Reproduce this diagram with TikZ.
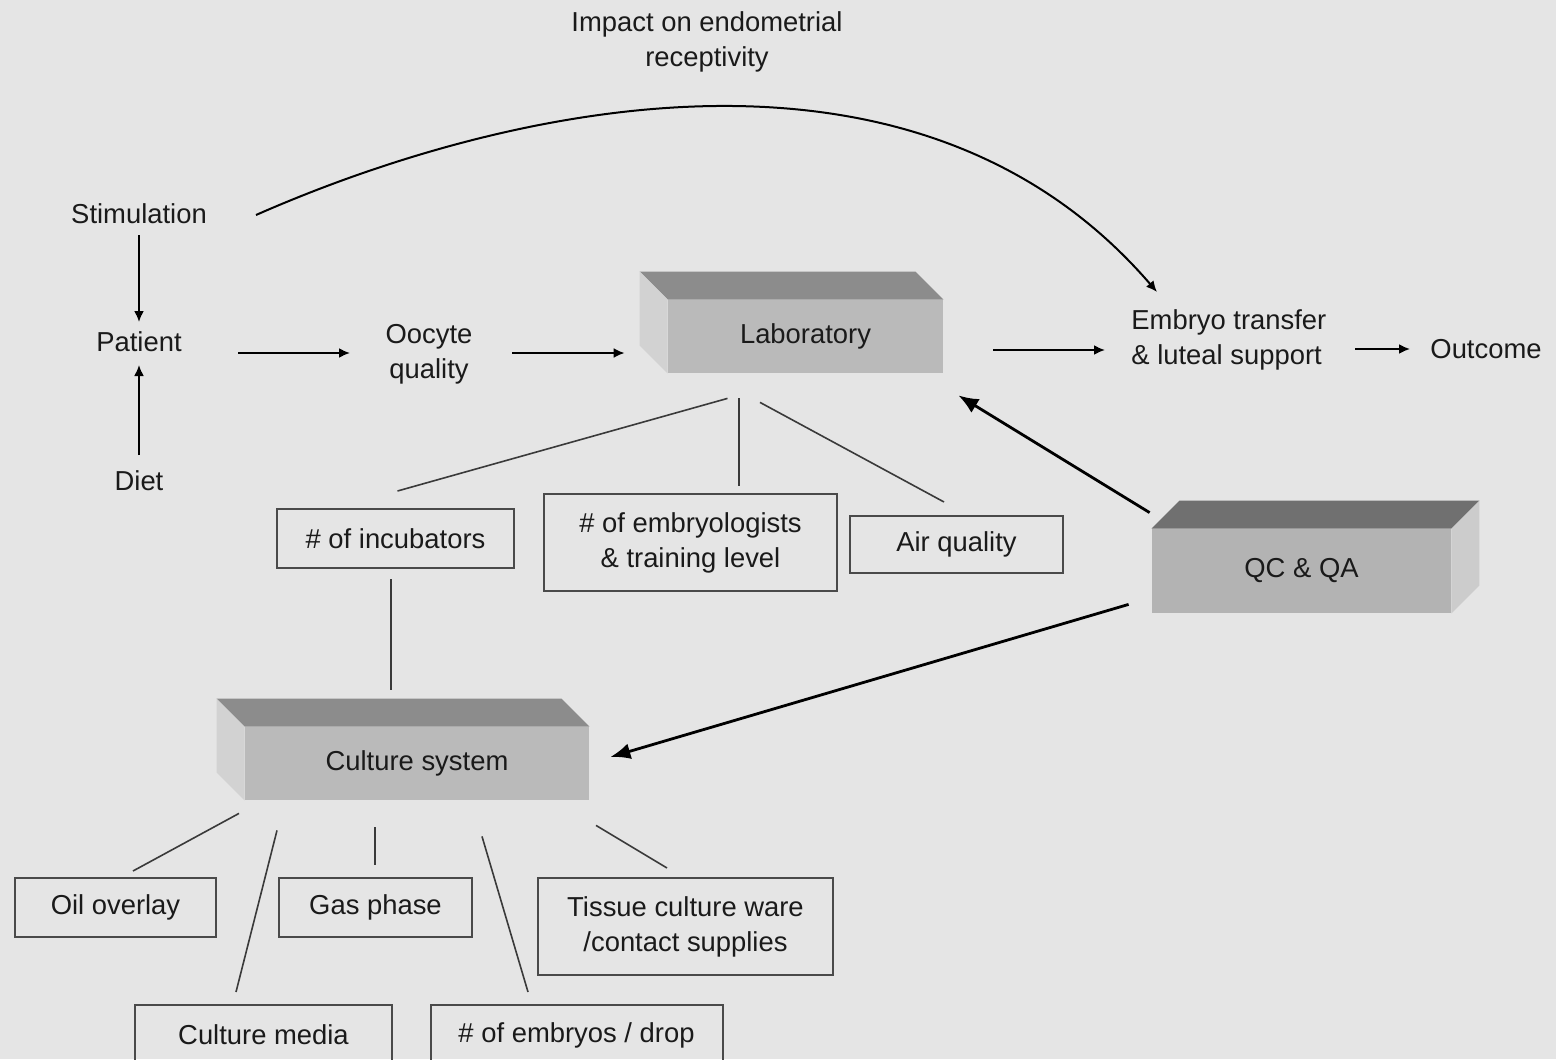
\documentclass[tikz,border=0pt]{standalone}
\usepackage{fontspec}
\setmainfont{Liberation Sans}
\usetikzlibrary{arrows.meta,calc}

\definecolor{bggray}{HTML}{E5E5E5}
\definecolor{txt}{HTML}{1A1A1A}
\definecolor{boxline}{HTML}{4A4A4A}
\definecolor{linegray}{HTML}{3A3A3A}
\definecolor{frontgray}{HTML}{BABABA}
\definecolor{topgray}{HTML}{8C8C8C}
\definecolor{sidegray}{HTML}{D2D2D2}
\definecolor{qcfront}{HTML}{B3B3B3}
\definecolor{qctop}{HTML}{707070}
\definecolor{qcside}{HTML}{CCCCCC}

\begin{document}
\begin{tikzpicture}[x=0.5pt, y=-0.5pt,
		every node/.style={font=\fontsize{13.7}{17.5}\selectfont, text=txt},
		lbl/.style={inner sep=0pt, align=center},
		tbox/.style={draw=boxline, line width=1pt, inner sep=0pt, align=center},
		slab/.style={fill=#1, inner sep=0pt},
		link/.style={draw=linegray, line width=0.8pt},
		arr/.style={draw=black, line width=1pt, -{Latex[length=5.5pt,width=5pt]}},
		bigarr/.style={draw=black, line width=1.4pt, -{Latex[length=10pt,width=8pt]}}]
		% page
		\useasboundingbox (0,0) rectangle (1556,1059);
		\clip (0,0) rectangle (1556,1059);
		\fill[bggray] (0,0) rectangle (1556,1059);

		% labels
		\node[lbl] (title) at (707,42) {Impact on endometrial\\receptivity};
		\node[lbl] (stim) at (139,214) {Stimulation};
		\node[lbl] (patient) at (139,342) {Patient};
		\node[lbl] (diet) at (139,481) {Diet};
		\node[lbl] (oocyte) at (429,354) {Oocyte\\quality};
		\node[lbl, align=left, anchor=west] (transfer) at (1131,340) {Embryo transfer\\\& luteal support};
		\node[lbl] (outcome) at (1486,349) {Outcome};

		% boxes in 3d
		\node[slab=frontgray, minimum width=137.5pt, minimum height=36.5pt] (lab) at (805.5,336.5) {Laboratory};
		\fill[topgray] (lab.north west) -- (lab.north east) -- ++(-28,-28) -- ($(lab.north west)+(-28,-28)$) -- cycle;
		\fill[sidegray] (lab.north west) -- ++(-28,-28) -- ($(lab.south west)+(-28,-28)$) -- (lab.south west) -- cycle;

		\node[slab=frontgray, minimum width=172pt, minimum height=36.5pt] (culture) at (417,763.5) {Culture system};
		\fill[topgray] (culture.north west) -- (culture.north east) -- ++(-28,-28) -- ($(culture.north west)+(-28,-28)$) -- cycle;
		\fill[sidegray] (culture.north west) -- ++(-28,-28) -- ($(culture.south west)+(-28,-28)$) -- (culture.south west) -- cycle;

		\node[slab=qcfront, minimum width=149.5pt, minimum height=42pt] (qc) at (1301.5,571) {QC \& QA};
		\fill[qctop] (qc.north west) -- (qc.north east) -- ++(28,-28) -- ($(qc.north west)+(28,-28)$) -- cycle;
		\fill[qcside] (qc.north east) -- ++(28,-28) -- ($(qc.south east)+(28,-28)$) -- (qc.south east) -- cycle;

		% framed factors
		\node[tbox, minimum width=118.5pt, minimum height=29.5pt] (incub) at (395.5,538.5) {\# of incubators};
		\node[tbox, minimum width=146.5pt, minimum height=48.5pt] (staff) at (690.5,542.5) {\# of embryologists\\\& training level};
		\node[tbox, minimum width=106.5pt, minimum height=28.5pt] (air) at (956.5,544.5) {Air quality};
		\node[tbox, minimum width=100.5pt, minimum height=29.5pt] (oil) at (115.5,907.5) {Oil overlay};
		\node[tbox, minimum width=96.5pt, minimum height=29.5pt] (gas) at (375.5,907.5) {Gas phase};
		\node[tbox, minimum width=147.5pt, minimum height=48.5pt] (ware) at (685.5,926.5) {Tissue culture ware\\/contact supplies};
		\node[tbox, minimum width=128.5pt, minimum height=30pt] (media) at (263.5,1035) {Culture media};
		\node[tbox, minimum width=146pt, minimum height=30pt] (drop) at (576.5,1035) {\# of embryos / drop};

		% main flow
		\draw[arr] ($(stim)+(0,21)$) -- ($(patient)+(0,-20)$);
		\draw[arr] ($(diet)+(0,-26)$) -- ($(patient)+(0,23)$);
		\draw[arr] ($(patient)+(99,11)$) -- ($(oocyte)+(-79,-1)$);
		\draw[arr] ($(oocyte)+(83,-1)$) -- ($(lab.west)+(-43,16.5)$);
		\draw[arr] ($(lab.east)+(50,13.5)$) -- ($(transfer.west)+(-26,10)$);
		\draw[arr] ($(transfer.west)+(224,9)$) -- ($(outcome.west)+(-20,0)$);
		\draw[arr] ($(stim)+(117,1)$) .. controls (490,112) and (910,5) .. ($(transfer.west)+(26,-48)$);

		% QC arrows
		\draw[bigarr] ($(qc.north west)+(-2,-16)$) -- ($(lab.south east)+(15,22)$);
		\draw[bigarr] ($(qc.south west)+(-23,-9)$) -- ($(culture.east)+(21,-6.5)$);

		% lab factors
		\draw[link] ($(lab.south)+(-78,25)$) -- ($(incub.north)+(2,-17)$);
		\draw[link] ($(lab.south)+(-66.5,25)$) -- ($(staff.north)+(48.5,-7)$);
		\draw[link] ($(lab.south)+(-45.5,29)$) -- ($(air.north)+(-12.5,-13)$);
		\draw[link] ($(incub.south)+(-4.5,10)$) -- ($(culture.north)+(-26,-37)$);

		% culture factors
		\draw[link] ($(culture.south)+(-178,13)$) -- ($(oil.north)+(17.5,-6)$);
		\draw[link] ($(culture.south)+(-140,30)$) -- ($(media.north)+(-27.5,-12)$);
		\draw[link] ($(culture.south)+(-42,27)$) -- ($(gas.north)+(-0.5,-12)$);
		\draw[link] ($(culture.south)+(65,36)$) -- ($(drop.north)+(-48.5,-12)$);
		\draw[link] ($(culture.south)+(179,25)$) -- ($(ware.north)+(-18.5,-9)$);
	\end{tikzpicture}
\end{document}
